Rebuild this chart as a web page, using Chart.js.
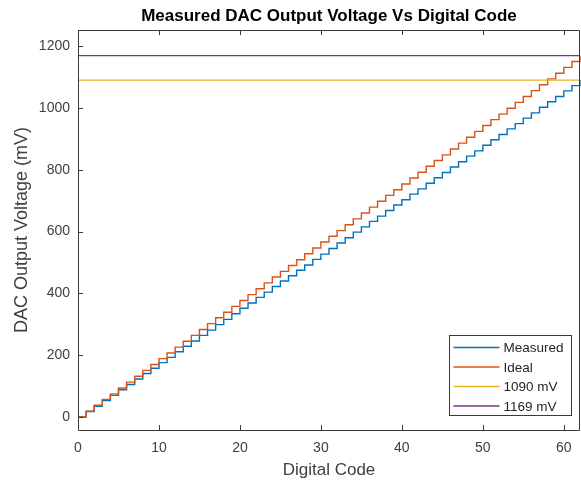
<!DOCTYPE html>
<html>
<head>
<meta charset="utf-8">
<script src="https://cdn.jsdelivr.net/npm/chart.js@4/dist/chart.umd.min.js"></script>
<style>
  html, body { margin: 0; padding: 0; background: #ffffff; }
  #wrap { width: 581px; height: 485px; position: relative; }
</style>
</head>
<body>
<div id="wrap"><canvas id="c" width="581" height="485"></canvas></div>
<script>
// DAC transfer curve: digital code (0..62) against output voltage in mV
const codes = [
  0, 1, 2, 3, 4, 5, 6, 7, 8, 9, 10, 11, 12, 13, 14, 15, 16, 17, 18, 19, 20,
  21, 22, 23, 24, 25, 26, 27, 28, 29, 30, 31, 32, 33, 34, 35, 36, 37, 38, 39, 40,
  41, 42, 43, 44, 45, 46, 47, 48, 49, 50, 51, 52, 53, 54, 55, 56, 57, 58, 59, 60,
  61, 62
];
const measuredMv = [
  0, 18, 35, 53, 70, 88, 105, 123, 141, 158, 176, 193, 211, 229, 246, 264, 281, 299, 316, 334, 352,
  369, 387, 404, 422, 440, 457, 475, 492, 510, 527, 545, 563, 580, 598, 615, 633, 650, 668, 686, 703,
  721, 738, 756, 774, 791, 809, 826, 844, 861, 879, 897, 914, 932, 949, 967, 984, 1002, 1020, 1037, 1055,
  1072, 1090
];
const idealMv = [
  0, 19, 38, 57, 75, 94, 113, 132, 151, 170, 189, 207, 226, 245, 264, 283, 302, 321, 339, 358, 377,
  396, 415, 434, 453, 471, 490, 509, 528, 547, 566, 585, 603, 622, 641, 660, 679, 698, 717, 735, 754,
  773, 792, 811, 830, 848, 867, 886, 905, 924, 943, 962, 980, 999, 1018, 1037, 1056, 1075, 1094, 1112, 1131,
  1150, 1169
];
const limitMv = [1090, 1169];
const seriesLabels = ['Measured', 'Ideal', '1090 mV', '1169 mV'];
const xTicks = [0, 10, 20, 30, 40, 50, 60];
const yTicks = [0, 200, 400, 600, 800, 1000, 1200];

const colors = ['#0072BD', '#D95319', '#EDB120', '#7E2F8E'];
const axisColor = '#3a3a3a';
const textColor = '#404040';
const fontFamily = 'Arial, "Liberation Sans", Helvetica, sans-serif';

const xMin = codes[0];
const xMax = codes[codes.length - 1];
const lineClip = { left: 1, top: 1, right: 2, bottom: 1 };

function pts(ys) { return codes.map((x, i) => ({ x: x, y: ys[i] })); }
function flat(v) { return [{ x: xMin, y: v }, { x: xMax, y: v }]; }

// Frame with inward tick marks, title, axis titles and boxed legend
const decorations = {
  id: 'decorations',
  afterDatasetsDraw(chart) {
    const ctx = chart.ctx;
    const a = chart.chartArea;
    const xs = chart.scales.x, ys = chart.scales.y;
    ctx.save();
    ctx.strokeStyle = axisColor;
    ctx.lineWidth = 1;
    ctx.beginPath();
    ctx.rect(Math.round(a.left) + 0.5, Math.round(a.top) + 0.5,
             Math.round(a.right - a.left) - 1, Math.round(a.bottom - a.top));
    ctx.stroke();
    const tl = 5;
    ctx.beginPath();
    xTicks.forEach(v => {
      const px = Math.round(xs.getPixelForValue(v)) + 0.5;
      ctx.moveTo(px, a.bottom); ctx.lineTo(px, a.bottom - tl);
      ctx.moveTo(px, a.top); ctx.lineTo(px, a.top + tl);
    });
    yTicks.forEach(v => {
      const py = Math.round(ys.getPixelForValue(v)) + 0.5;
      ctx.moveTo(a.left, py); ctx.lineTo(a.left + tl, py);
    });
    ctx.stroke();

    // title
    ctx.fillStyle = '#000000';
    ctx.font = 'bold 17px ' + fontFamily;
    ctx.textAlign = 'center';
    ctx.textBaseline = 'middle';
    ctx.fillText('Measured DAC Output Voltage Vs Digital Code', (a.left + a.right) / 2, 16);

    // axis titles
    ctx.fillStyle = textColor;
    ctx.font = '17px ' + fontFamily;
    ctx.fillText('Digital Code', (a.left + a.right) / 2, 470);
    ctx.save();
    ctx.translate(22, (a.top + a.bottom) / 2);
    ctx.rotate(-Math.PI / 2);
    ctx.font = '18px ' + fontFamily;
    ctx.fillText('DAC Output Voltage (mV)', 0, 0);
    ctx.restore();

    // legend
    const bx = 449.5, by = 335.5, bw = 122, bh = 80;
    ctx.fillStyle = '#ffffff';
    ctx.fillRect(bx, by, bw, bh);
    ctx.strokeStyle = axisColor;
    ctx.strokeRect(bx, by, bw, bh);
    ctx.font = '13.5px ' + fontFamily;
    ctx.textAlign = 'left';
    chart.data.datasets.forEach((ds, i) => {
      const yy = by + 12 + i * 19.5;
      ctx.strokeStyle = ds.borderColor;
      ctx.lineWidth = 1.5;
      ctx.beginPath();
      ctx.moveTo(bx + 4, yy);
      ctx.lineTo(bx + 50, yy);
      ctx.stroke();
      ctx.fillStyle = '#262626';
      ctx.fillText(ds.label, bx + 54, yy + 1);
    });
    ctx.restore();
  }
};

new Chart(document.getElementById('c'), {
  type: 'line',
  data: {
    datasets: [
      { label: seriesLabels[0], data: pts(measuredMv), borderColor: colors[0], stepped: 'before', order: 4, clip: lineClip },
      { label: seriesLabels[1], data: pts(idealMv), borderColor: colors[1], stepped: 'before', order: 3, clip: lineClip },
      { label: seriesLabels[2], data: flat(limitMv[0]), borderColor: colors[2], order: 2 },
      { label: seriesLabels[3], data: flat(limitMv[1]), borderColor: colors[3], order: 1 }
    ]
  },
  options: {
    responsive: false,
    animation: false,
    events: [],
    layout: { padding: { top: 30, right: 1, left: 0, bottom: 0 } },
    elements: {
      point: { radius: 0 },
      line: { borderWidth: 1.4, tension: 0, fill: false }
    },
    plugins: { legend: { display: false }, tooltip: { enabled: false }, title: { display: false } },
    scales: {
      x: {
        type: 'linear',
        min: xMin,
        max: xMax,
        grid: { display: false },
        border: { display: false },
        afterBuildTicks(s) { s.ticks = xTicks.map(v => ({ value: v })); },
        afterFit(s) { s.height = 55; },
        ticks: { color: textColor, font: { size: 14, family: fontFamily }, padding: 2, maxRotation: 0,
                 callback: v => String(v) }
      },
      y: {
        type: 'linear',
        min: -42,
        max: 1252,
        grid: { display: false },
        border: { display: false },
        afterBuildTicks(s) { s.ticks = yTicks.map(v => ({ value: v })); },
        afterFit(s) { s.width = 78; },
        ticks: { color: textColor, font: { size: 14, family: fontFamily }, padding: 0,
                 callback: v => String(v) }
      }
    }
  },
  plugins: [decorations]
});
</script>
</body>
</html>
